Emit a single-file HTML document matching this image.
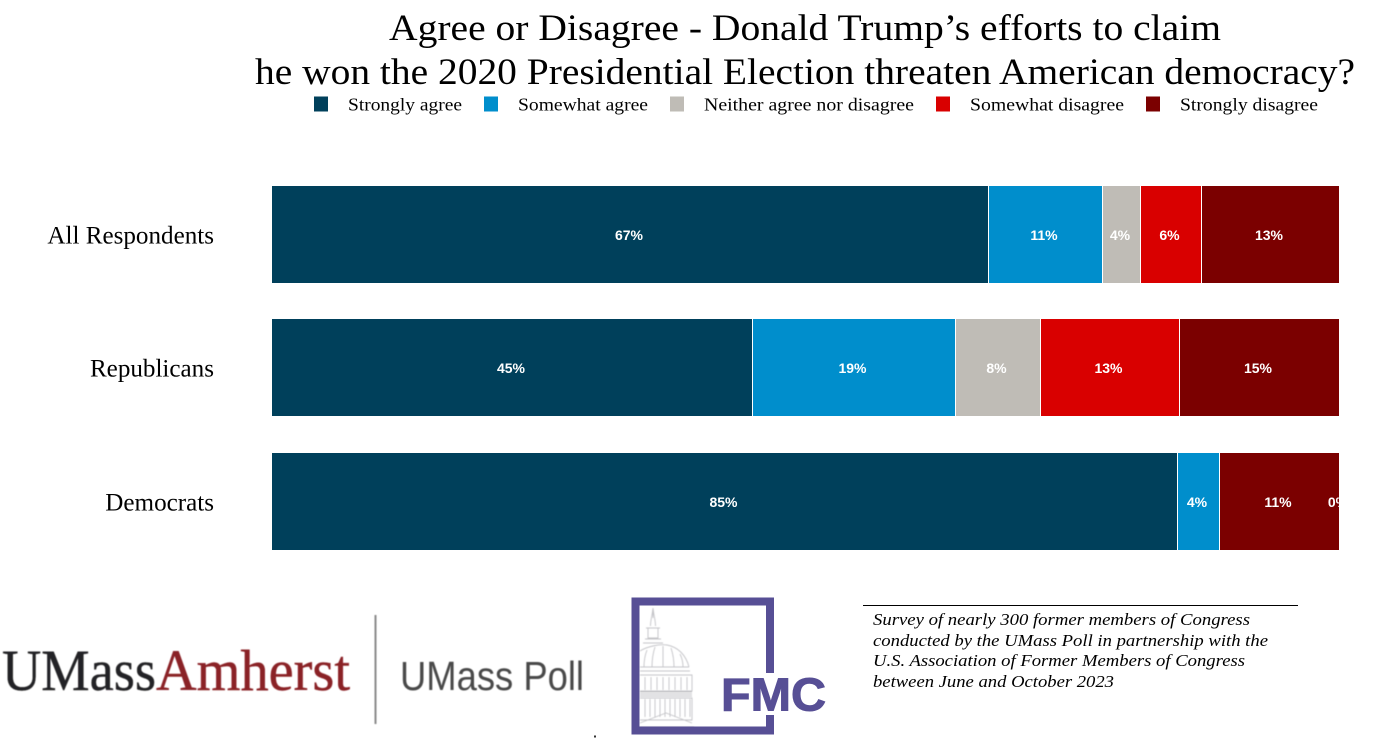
<!DOCTYPE html>
<html lang="en">
<head>
<meta charset="utf-8">
<title>Agree or Disagree chart</title>
<style>
html,body{margin:0;padding:0;background:#fff;width:1400px;height:741px;overflow:hidden}
svg{display:block}
.serif{font-family:"Liberation Serif",serif}
.sans{font-family:"Liberation Sans",sans-serif}
</style>
</head>
<body>
<svg id="chart" xmlns="http://www.w3.org/2000/svg" width="1400" height="741" viewBox="0 0 1400 741">
  <defs>
    <clipPath id="plot-clip"><rect x="272" y="170" width="1067" height="400"/></clipPath>
    <filter id="soft" x="-5%" y="-5%" width="110%" height="110%"><feGaussianBlur stdDeviation="0.5"/></filter>
  </defs>
  <g class="serif" font-size="37.5" fill="#000" text-anchor="middle">
    <text x="805" y="40" textLength="832" lengthAdjust="spacingAndGlyphs">Agree or Disagree - Donald Trump’s efforts to claim</text>
    <text x="805" y="84" textLength="1100" lengthAdjust="spacingAndGlyphs">he won the 2020 Presidential Election threaten American democracy?</text>
  </g>
  <g id="legend"></g>
  <g id="categories"></g>
  <g id="bars"></g>
  <g id="labels" clip-path="url(#plot-clip)"></g>

  <g filter="url(#soft)">
    <text class="serif" x="2" y="690" font-size="58" fill="#242325" stroke="#242325" stroke-width="0.4" textLength="154" lengthAdjust="spacingAndGlyphs">UMass</text>
    <text class="serif" x="156" y="690" font-size="58" fill="#8a2025" stroke="#8a2025" stroke-width="0.4" textLength="194" lengthAdjust="spacingAndGlyphs">Amherst</text>
    <rect x="374.5" y="615" width="2" height="109" fill="#8a8a8a"/>
    <text class="sans" x="400" y="690" font-size="41" fill="#484848" textLength="184" lengthAdjust="spacingAndGlyphs">UMass Poll</text>
  </g>
  <rect x="594" y="735.5" width="2" height="2" fill="#333"/>

  <g>
    <g fill="none" stroke="#c4c4c8" stroke-width="0.9" filter="url(#soft)">
      <path d="M653 608v10M650.500 626c0-6 1.500-9 2.500-18 1 9 2.500 12 2.500 18M648 628h10v10h-10zM646 628h14M645 639h16M643 643h20"/>
      <path d="M640 651c8-5 20-7 27-6 11 2 19 10 22 22M640 667h49"/>
      <path d="M647 650c-2 5-3 11-3 17M655 647c-2 6-3 13-3 20M663 646v21M671 648c2 6 3 12 3 19M680 654c2 4 3 8 3 13"/>
      <path d="M640 671h50M640 675h52v16H640M645 677v13M651 677v13M657 677v13M663 677v13M669 677v13M675 677v13M681 677v13M687 677v13"/>
      <path d="M640 692h52M640 694h52M640 696h52M640 698h52v22H640M645 699v18M650 699v18M655 699v18M660 699v18M665 699v18M670 699v18M675 699v18M680 699v18M685 699v18M690 699v18"/>
      <path d="M640 723l26-10 26 10M640 727h54"/>
    </g>
    <path d="M770 673V601.500H635.500V730.500H770V715" fill="none" stroke="#574f95" stroke-width="8"/>
    <text class="sans" x="721" y="710.500" font-size="46" font-weight="700" fill="#574f95" stroke="#574f95" stroke-width="1" textLength="105" lengthAdjust="spacingAndGlyphs">FMC</text>
  </g>

  <rect x="863" y="605" width="435" height="1" fill="#000"/>
  <g class="serif" font-size="16.500" font-style="italic" fill="#000">
    <text x="873" y="625" textLength="377" lengthAdjust="spacingAndGlyphs">Survey of nearly 300 former members of Congress</text>
    <text x="873" y="646" textLength="395" lengthAdjust="spacingAndGlyphs">conducted by the UMass Poll in partnership with the</text>
    <text x="873" y="666" textLength="372" lengthAdjust="spacingAndGlyphs">U.S. Association of Former Members of Congress</text>
    <text x="873" y="687" textLength="241" lengthAdjust="spacingAndGlyphs">between June and October 2023</text>
  </g>
</svg>
<script>
// Chart data
var categories = ['All Respondents', 'Republicans', 'Democrats'];
var seriesNames = ['Strongly agree', 'Somewhat agree', 'Neither agree nor disagree', 'Somewhat disagree', 'Strongly disagree'];
var stronglyAgree = [67.1, 45, 84.8];
var somewhatAgree = [10.7, 19, 3.95];
var neitherAgree = [3.55, 8, 0];
var somewhatDisagree = [5.7, 13, 0];
var stronglyDisagree = [12.95, 15, 11.25];
var trailingValues = [null, null, 0];

// Presentation
var seriesValues = [stronglyAgree, somewhatAgree, neitherAgree, somewhatDisagree, stronglyDisagree];
var seriesColors = ['#00405b', '#008ecc', '#bfbcb6', '#d90000', '#7b0000'];
var legendSwatchX = [314, 484, 670, 936, 1146];
var legendTextWidths = [114, 130, 210, 154, 138];
var NS = 'http://www.w3.org/2000/svg';
var PLOT_LEFT = 272, PLOT_WIDTH = 1067, BAND_TOP = 186, BAND_STEP = 133.5, BAR_HEIGHT = 97;

function xScale(v) { return PLOT_LEFT + v / 100 * PLOT_WIDTH; }
function yScale(i) { return Math.floor(BAND_TOP + i * BAND_STEP); }
function make(tag, attrs, text) {
  var el = document.createElementNS(NS, tag);
  for (var k in attrs) el.setAttribute(k, attrs[k]);
  if (text !== undefined) el.textContent = text;
  return el;
}

var legend = document.getElementById('legend');
seriesNames.forEach(function (name, s) {
  var sw = make('rect', { x: legendSwatchX[s], y: 96.500, width: 14, height: 15, fill: seriesColors[s] });
  
  
  legend.appendChild(sw);
  var t = make('text', { x: legendSwatchX[s] + 34, y: 110.500, 'font-size': 18, 'font-family': '"Liberation Serif",serif', fill: '#000', textLength: legendTextWidths[s], lengthAdjust: 'spacingAndGlyphs' }, name);
  
  
  legend.appendChild(t);
});

var catGroup = document.getElementById('categories');
var barGroup = document.getElementById('bars');
var labelGroup = document.getElementById('labels');

function addLabel(cx, cy, str) {
  var t = make('text', { x: cx - 1, y: cy + 5.5, 'text-anchor': 'middle', 'font-size': 14, 'font-weight': 700, 'font-family': '"Liberation Sans",sans-serif', fill: '#fff' }, str);
  
  
  labelGroup.appendChild(t);
}

categories.forEach(function (cat, i) {
  var y = yScale(i), mid = y + BAR_HEIGHT / 2;
  var c = make('text', { x: 214, y: mid + 9, 'text-anchor': 'end', 'font-size': 25.1, 'font-family': '"Liberation Serif",serif', fill: '#000' }, cat);
  
  
  catGroup.appendChild(c);

  var cum = 0;
  seriesValues.forEach(function (vals, s) {
    var v = vals[i];
    if (v > 0) {
      var x0 = Math.round(xScale(cum)), x1 = Math.round(xScale(cum + v));
      var r = make('rect', { x: x0, y: y, width: x1 - x0, height: BAR_HEIGHT, fill: seriesColors[s] });
      
      
      barGroup.appendChild(r);
      if (cum > 0) {
        var sep = make('rect', { x: x0, y: y, width: 1, height: BAR_HEIGHT, fill: '#fff' });
        
        
        barGroup.appendChild(sep);
      }
      addLabel((x0 + x1) / 2, mid, Math.round(v) + '%');
    }
    cum += v;
  });
  if (trailingValues[i] !== null) {
    addLabel(xScale(cum + trailingValues[i]), mid, Math.round(trailingValues[i]) + '%');
  }
});
</script>
</body>
</html>
